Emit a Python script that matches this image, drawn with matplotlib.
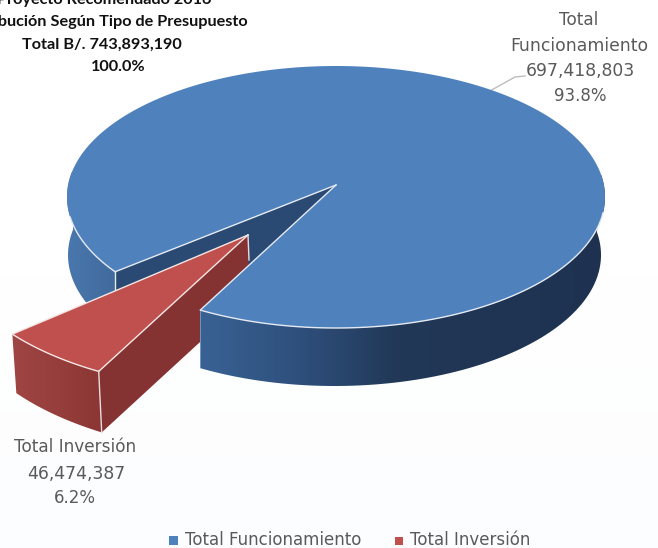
import numpy as np
import matplotlib
matplotlib.use("Agg")
import matplotlib.pyplot as plt
from matplotlib.colors import LinearSegmentedColormap
from matplotlib.patches import Polygon

labels = ["Total Funcionamiento", "Total Inversión"]
values = [697418803, 46474387]
percents = ["93.8%", "6.2%"]
value_text = ["697,418,803", "46,474,387"]
title_lines = ["Proyecto Recomendado 2016", "Distribución Según Tipo de Presupuesto",
               "Total B/. 743,893,190", "100.0%"]

W, H = 658, 548
BLUE = "#4f81bd"
RED = "#c0504d"
GREY = "#5a5a5a"
RIM = "#e4eaf2"

fig = plt.figure(figsize=(W / 100, H / 100), dpi=100)
ax = fig.add_axes([0, 0, 1, 1])
ax.axis("off")


def top_pt(t, k=1.0, off=(0, 0)):
    r = np.radians(t)
    return np.array([336 + off[0] + k * 269 * np.cos(r), 197 + off[1] + k * 131 * np.sin(r)])


def bot_pt(t):
    r = np.radians(t)
    return np.array([334.5 + 266.5 * np.cos(r), 255 + 131 * np.sin(r)])


def grad_poly(points, stops, z):
    # degradado horizontal recortado con el poligono
    xs = [s[0] for s in stops]
    cmap = LinearSegmentedColormap.from_list(
        "g", [((x - xs[0]) / (xs[-1] - xs[0]), s[1]) for x, s in zip(xs, stops)])
    img = ax.imshow(np.linspace(0, 1, 400)[None, :], cmap=cmap, aspect="auto",
                    extent=[xs[0], xs[-1], H, 0], zorder=z, interpolation="bilinear")
    patch = Polygon(points, transform=ax.transData, fc="none", ec="none")
    ax.add_patch(patch)
    img.set_clip_path(patch)


# angulos a partir de los valores; la perspectiva abre un poco el hueco
total = sum(values)
sweep_red = values[1] / total * 360
gap = sweep_red * 1.107
t_low = 120.3
t_high = t_low + gap
apex = np.array([336.0, 185.0])
red_off = (-88, 50)
red_apex = apex + red_off
k_red = 1.10
red_a = top_pt(t_low, k_red, red_off)
red_b = top_pt(t_low + sweep_red, k_red, red_off)

# fondo casi blanco
ax.imshow(np.linspace(0, 1, 100)[:, None], cmap=LinearSegmentedColormap.from_list(
    "bg", ["#ffffff", "#ffffff", "#fcfdfe"]), aspect="auto", extent=[0, W, H, 0], zorder=0)

# pared interior, detras de todo
ax.add_patch(Polygon([apex, top_pt(t_high), top_pt(t_high) + [0, 58], apex + [0, 58]],
                     fc="#2a4a73", ec="none", zorder=1))

# pared izquierda azul
left = np.arange(t_high, 192, 1.0)
left_poly = [top_pt(t) for t in left] + [bot_pt(t) for t in left[::-1]]
grad_poly(left_poly, [(60, "#4a79af"), (120, "#41699c")], 2)

# porcion roja: paredes
tr = np.linspace(t_low + sweep_red, t_low, 30)
edge = [top_pt(t, k_red, red_off) for t in tr]
edge_low = [p + [4 - 1.0 * i / 29, 59 + 2.0 * i / 29] for i, p in enumerate(edge)]
grad_poly(edge + edge_low[::-1], [(10, "#a04644"), (105, "#8b3634")], 3)
ax.add_patch(Polygon([red_apex, red_a, red_a + [3, 61], red_apex + [1, 62]],
                     fc="#853332", ec="none", zorder=4))

# pared derecha azul, delante de la roja
right = np.arange(-10, t_low + 0.5, 1.0)
right[-1] = t_low
right_poly = [top_pt(t) for t in right] + [bot_pt(t) for t in right[::-1]]
grad_poly(right_poly, [(190, "#3a6496"), (300, "#2e4f7c"), (400, "#213856"), (610, "#1e3150")], 5)

# cara superior azul
tt = np.linspace(t_high, t_low + 360, 400)
ax.add_patch(Polygon([apex] + [top_pt(t) for t in tt], fc=BLUE, ec="none", zorder=6))

# cara superior roja
ax.add_patch(Polygon([red_apex] + edge, fc=RED, ec="none", zorder=7))

# lineas claras de los bordes
rim_r = np.array([top_pt(t) for t in np.arange(7, t_low + 0.5, 1.0)])
rim_l = np.array([top_pt(t) for t in np.arange(t_high, 172, 1.0)])
ax.plot(rim_r[:, 0], rim_r[:, 1], color=RIM, lw=1.0, zorder=8)
ax.plot(rim_l[:, 0], rim_l[:, 1], color=RIM, lw=1.0, zorder=8)
for p in (top_pt(t_low), top_pt(t_high)):
    ax.plot([apex[0], p[0]], [apex[1], p[1]], color=RIM, lw=1.0, zorder=8)
p = top_pt(t_high)
ax.plot([p[0], p[0]], [p[1], p[1] + 18], color=RIM, lw=1.0, zorder=5.5)
p = top_pt(t_low)
ax.plot([p[0], p[0]], [p[1], p[1] + 57], color="#7f9cc0", lw=0.6, zorder=5.5)
arr = np.array(edge)
ax.plot(arr[:, 0], arr[:, 1], color="#f3e6e5", lw=1.0, zorder=8)
ax.plot([red_apex[0], red_a[0]], [red_apex[1], red_a[1]], color="#f3e6e5", lw=1.0, zorder=8)
ax.plot([red_apex[0], red_b[0]], [red_apex[1], red_b[1]], color="#f3e6e5", lw=1.0, zorder=8)
ax.plot([red_a[0], red_a[0] + 3], [red_a[1], red_a[1] + 61], color="#e8dcdc", lw=1.0, zorder=8)
ax.plot([red_apex[0], red_apex[0] + 1], [red_apex[1], red_apex[1] + 25], color="#e8dcdc", lw=1.0, zorder=5.5)

# titulo, cortado por el borde de la imagen como en el original
for txt, x, y in zip(title_lines, [104, 103, 102, 118], [0, 22, 45, 67]):
    ax.text(x, y, txt, ha="center", va="center", fontsize=11.7, fontweight="bold",
            family="Lato", color="#111111", zorder=10)

# etiquetas
ax.plot([488, 515, 525], [92, 77, 76], color="#bdbdbd", lw=1.0, zorder=5)
ax.text(579, 20, "Total", ha="center", va="center", fontsize=12.2, color=GREY, zorder=10)
ax.text(579, 46, "Funcionamiento", ha="center", va="center", fontsize=12.4, color=GREY, zorder=10)
ax.text(580, 71, value_text[0], ha="center", va="center", fontsize=12.4, color=GREY, zorder=10)
ax.text(580, 96, percents[0], ha="center", va="center", fontsize=12, color=GREY, zorder=10)

ax.text(75, 447, labels[1], ha="center", va="center", fontsize=12.2, color=GREY, zorder=10)
ax.text(76, 474, value_text[1], ha="center", va="center", fontsize=12.4, color=GREY, zorder=10)
ax.text(75, 498, percents[1], ha="center", va="center", fontsize=12, color=GREY, zorder=10)

# leyenda
ax.add_patch(Polygon([(169, 536), (178, 536), (178, 545), (169, 545)], fc=BLUE, ec="none", zorder=10))
ax.text(185, 540, labels[0], ha="left", va="center", fontsize=12, color=GREY, zorder=10)
ax.add_patch(Polygon([(395, 537), (403, 537), (403, 545), (395, 545)], fc=RED, ec="none", zorder=10))
ax.text(410, 540, labels[1], ha="left", va="center", fontsize=12, color=GREY, zorder=10)

ax.set_xlim(0, W)
ax.set_ylim(H, 0)
fig.savefig("out.png", dpi=100)
